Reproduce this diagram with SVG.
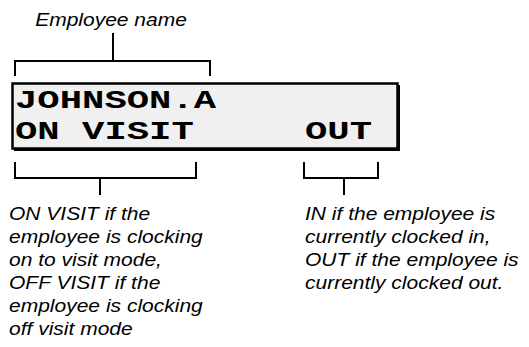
<svg xmlns="http://www.w3.org/2000/svg" width="529" height="347" viewBox="0 0 529 347">
<style>
.lbl{font-family:"Liberation Sans",Arial,sans-serif;font-style:italic;font-size:18.6px;fill:#000}
.lcd{font-family:"Liberation Mono","Courier New",monospace;font-weight:bold;font-size:25px;fill:#000}
.br{fill:none;stroke:#000;stroke-width:2}
</style>
<rect width="529" height="347" fill="#fff"/>
<g id="connectors">
<path class="br" d="M15,76 V61 H210 V76 M113,61 V33"/>
<path class="br" d="M15,162 V178 H196 V162 M100,178 V195"/>
<path class="br" d="M304,162 V178 H378 V162 M344,178 V195"/>
</g>
<g id="display">
<rect x="14" y="85" width="386" height="66" fill="#000"/>
<rect x="12.5" y="83.5" width="385" height="65" fill="#f0f0f0" stroke="#000" stroke-width="2.5"/>
<text class="lcd" transform="translate(15,108) scale(1.49,1)">JOHNSON.A</text>
<text class="lcd" transform="translate(15,139) scale(1.49,1)">ON VISIT</text>
<text class="lcd" transform="translate(305,139) scale(1.49,1)">OUT</text>
</g>
<g id="label-name">
<text class="lbl" transform="translate(111,26) scale(1.13,1)" text-anchor="middle">Employee name</text>
</g>
<g id="label-visit" transform="translate(9,0) scale(1.13,1)">
<text class="lbl" x="0" y="220.5">ON VISIT if the</text>
<text class="lbl" x="0" y="243.5">employee is clocking</text>
<text class="lbl" x="0" y="266.5">on to visit mode,</text>
<text class="lbl" x="0" y="289.5">OFF VISIT if the</text>
<text class="lbl" x="0" y="312.5">employee is clocking</text>
<text class="lbl" x="0" y="335.5">off visit mode</text>
</g>
<g id="label-inout" transform="translate(305,0) scale(1.13,1)">
<text class="lbl" x="0" y="220.5">IN if the employee is</text>
<text class="lbl" x="0" y="243.5">currently clocked in,</text>
<text class="lbl" x="0" y="266.5">OUT if the employee is</text>
<text class="lbl" x="0" y="289.5">currently clocked out.</text>
</g>
</svg>
